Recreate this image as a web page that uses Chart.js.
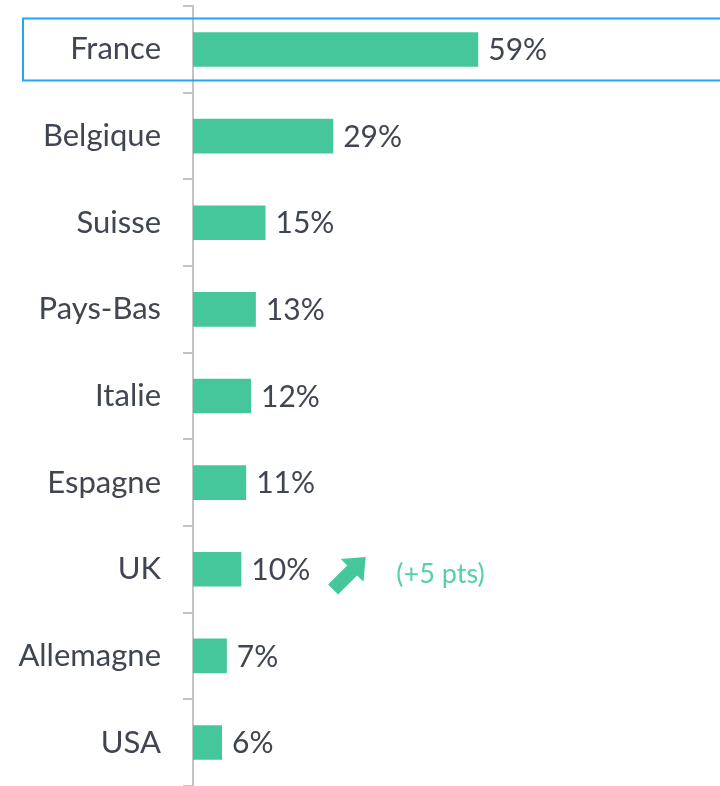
<!DOCTYPE html>
<html>
<head>
<meta charset="utf-8">
<script src="https://cdn.jsdelivr.net/npm/chart.js@4/dist/chart.umd.min.js"></script>
<style>
  html, body { margin: 0; padding: 0; background: #fff; overflow: hidden; }
  /* tick padding also pads the axis ends; a taller canvas shifted up compensates */
  #wrap { width: 720px; height: 824px; margin-top: -16px; position: relative; }
</style>
</head>
<body>
<div id="wrap"><canvas id="chart"></canvas></div>
<script>
// Chart data
const countries = ['France', 'Belgique', 'Suisse', 'Pays-Bas', 'Italie', 'Espagne', 'UK', 'Allemagne', 'USA'];
const shares = [59, 29, 15, 13, 12, 11, 10, 7, 6];
const highlightIndex = 0;      // France boxed
const noteIndex = 6;           // UK trend note
const noteText = '(+5 pts)';

const green = '#45c79b';
const textColor = '#404552';
const axisGrey = '#c3c3ca';
const fontFamily = 'Lato, "Open Sans", sans-serif';

// value labels, highlight box and the trend arrow
const extrasPlugin = {
  id: 'extras',
  afterDatasetsDraw(chart) {
    const ctx = chart.ctx;
    const x = chart.scales.x;
    const y = chart.scales.y;

    ctx.save();
    ctx.font = '30px ' + fontFamily;
    ctx.fillStyle = textColor;
    ctx.textAlign = 'left';
    ctx.textBaseline = 'middle';
    shares.forEach((v, i) => {
      ctx.fillText(v + '%', x.getPixelForValue(v) + 10, y.getPixelForValue(i) + 1);
    });

    // box round the highlighted row
    const yc = y.getPixelForValue(highlightIndex);
    ctx.strokeStyle = '#22a8f0';
    ctx.lineWidth = 2;
    ctx.strokeRect(23, yc - 31, 720, 62);

    // arrow + note next to UK
    const ny = y.getPixelForValue(noteIndex);
    const ax = x.getPixelForValue(shares[noteIndex]) + 108;
    ctx.translate(ax, ny + 4);
    ctx.rotate(-Math.PI / 4);
    ctx.fillStyle = green;
    ctx.beginPath();
    ctx.moveTo(-23, -7);
    ctx.lineTo(4, -7);
    ctx.lineTo(4, -16);
    ctx.lineTo(23, 0);
    ctx.lineTo(4, 16);
    ctx.lineTo(4, 7);
    ctx.lineTo(-23, 7);
    ctx.closePath();
    ctx.fill();
    ctx.setTransform(1, 0, 0, 1, 0, 0);

    ctx.font = '27px ' + fontFamily;
    ctx.fillStyle = '#55d0aa';
    ctx.fillText(noteText, ax + 47, ny + 5);
    ctx.restore();
  }
};

new Chart(document.getElementById('chart'), {
  type: 'bar',
  data: {
    labels: countries,
    datasets: [{
      data: shares,
      backgroundColor: green,
      borderWidth: 0,
      categoryPercentage: 1,
      barPercentage: 0.4
    }]
  },
  options: {
    indexAxis: 'y',
    responsive: true,
    maintainAspectRatio: false,
    animation: false,
    layout: { padding: 0 },
    plugins: {
      legend: { display: false },
      tooltip: { enabled: false }
    },
    scales: {
      x: {
        display: false,
        min: 0,
        max: 109
      },
      y: {
        afterFit(scale) { scale.width = 193; },
        border: { display: true, color: axisGrey, width: 2 },
        grid: {
          offset: true,
          drawOnChartArea: false,
          drawTicks: true,
          tickLength: 10,
          color: axisGrey,
          lineWidth: 2
        },
        ticks: {
          color: textColor,
          padding: 22,
          font: { family: fontFamily, size: 31, lineHeight: 0.01 }
        }
      }
    }
  },
  plugins: [extrasPlugin]
});
</script>
</body>
</html>
